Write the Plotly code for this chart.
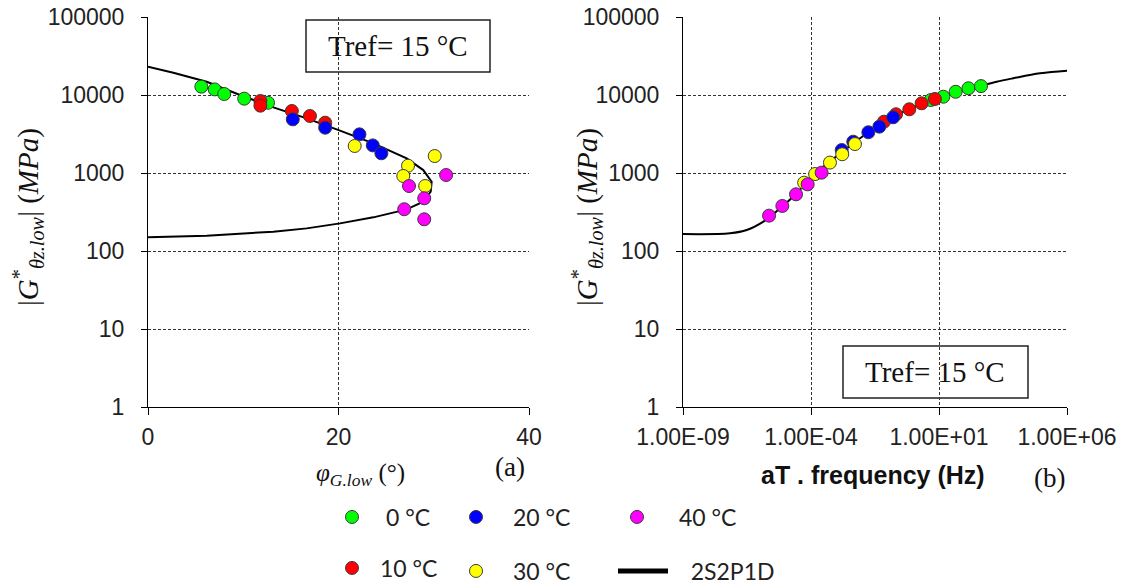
import plotly.graph_objects as go

# page body has an 8px margin, so the figure is 8px smaller and all layout
# positions below are given in reference-image pixels then shifted by OFF
OFF = 8
W, H = 1128 - OFF, 585 - OFF

# ---------------- data ----------------
temps = ["0 °C", "10 °C", "20 °C", "30 °C", "40 °C"]
colors = ["#00FF00", "#FF0000", "#0000FF", "#FFFF00", "#FF00FF"]

# (a) Black space: phase angle (deg) vs |G*| (MPa)
phi_0 = [5.6, 7.0, 8.0, 10.1, 12.6]
g_phi_0 = [12800, 11800, 10300, 8970, 7950]
phi_10 = [11.8, 11.8, 15.1, 17.0, 18.6]
g_phi_10 = [8380, 7300, 6240, 5380, 4420]
phi_20 = [15.2, 18.6, 22.2, 23.6, 24.5]
g_phi_20 = [4870, 3810, 3130, 2260, 1790]
phi_30 = [21.7, 27.3, 26.8, 29.1, 30.1]
g_phi_30 = [2220, 1240, 916, 681, 1650]
phi_40 = [31.3, 27.4, 29.0, 26.9, 29.0]
g_phi_40 = [942, 681, 474, 343, 255]

model_phi = [0.0, 2.66, 6.16, 9.66, 13.16, 16.66, 20.16, 23.66, 27.16, 28.9, 29.78,
             29.68, 28.9, 27.16, 23.66, 20.16, 16.66, 13.16, 6.16, 0.0]
model_g_phi = [23000, 19300, 14800, 10000, 6950, 5020, 3490, 2400, 1540, 1090, 774,
               576, 428, 342, 270, 226, 195, 177, 157, 150]

# (b) master curve: reduced frequency (Hz) vs |G*| (MPa)
f_0 = [4.8, 14.8, 44.7, 141, 437]
g_f_0 = [8630, 9510, 11000, 12200, 13000]
f_10 = [0.071, 0.209, 0.692, 2.09, 6.92]
g_f_10 = [4550, 5660, 6560, 7830, 8890]
f_20 = [0.00158, 0.00447, 0.0174, 0.0468, 0.162]
g_f_20 = [1970, 2520, 3330, 3930, 5180]
f_30 = [5.4e-5, 1.45e-4, 5.5e-4, 1.66e-3, 5.2e-3]
g_f_30 = [752, 970, 1360, 1740, 2350]
f_40 = [2.3e-6, 7.6e-6, 2.6e-5, 7.4e-5, 2.6e-4]
g_f_40 = [284, 378, 533, 716, 1010]

model_f = [1e-9, 6.9e-8, 3.1e-7, 1.38e-6, 6.2e-6, 2.75e-5, 1.23e-4, 5.5e-4, 2.45e-3,
           0.011, 0.049, 0.224, 1.0, 4.47, 20.0, 89, 398, 1780, 7940, 89000, 1e6]
model_g_f = [165, 169, 186, 238, 352, 550, 942, 1400, 2070, 2980, 4120, 5550,
             6950, 8450, 9910, 11400, 13000, 14800, 16400, 19000, 20500]

y_ticks = [1, 10, 100, 1000, 10000, 100000]
y_ticktext = ["1", "10", "100", "1000", "10000", "100000"]
x1_ticks = [0, 20, 40]
x2_ticks = [1e-9, 1e-4, 1e1, 1e6]
x2_ticktext = ["1.00E-09", "1.00E-04", "1.00E+01", "1.00E+06"]

phi_sets = [(phi_0, g_phi_0), (phi_10, g_phi_10), (phi_20, g_phi_20), (phi_30, g_phi_30), (phi_40, g_phi_40)]
f_sets = [(f_0, g_f_0), (f_10, g_f_10), (f_20, g_f_20), (f_30, g_f_30), (f_40, g_f_40)]

# ---------------- figure ----------------
def px(x):
    return (x - OFF) / W

def py(y):
    return 1 - (y - OFF) / H

fig = go.Figure()

legend_ids = ["legend", "legend2", "legend3", "legend4", "legend5"]
marker_line = dict(width=1, color="#3a3a3a")

# model curves
fig.add_trace(go.Scatter(x=model_phi, y=model_g_phi, mode="lines", line=dict(color="black", width=2),
                         xaxis="x", yaxis="y", showlegend=False, hoverinfo="skip"))
fig.add_trace(go.Scatter(x=model_f, y=model_g_f, mode="lines", line=dict(color="black", width=2, shape="spline"),
                         xaxis="x2", yaxis="y2", showlegend=False, hoverinfo="skip"))

for i, (name, col) in enumerate(zip(temps, colors)):
    xs, ys = phi_sets[i]
    fig.add_trace(go.Scatter(x=xs, y=ys, mode="markers", name=name,
                             marker=dict(color=col, size=13, line=marker_line),
                             xaxis="x", yaxis="y", showlegend=True, legend=legend_ids[i]))
    xs, ys = f_sets[i]
    fig.add_trace(go.Scatter(x=xs, y=ys, mode="markers", name=name,
                             marker=dict(color=col, size=13, line=marker_line),
                             xaxis="x2", yaxis="y2", showlegend=False))

# legend entry for the model line
fig.add_trace(go.Scatter(x=[None], y=[None], mode="lines", name="\u00a0\u00a0\u00a02S2P1D",
                         line=dict(color="black", width=5), xaxis="x2", yaxis="y2",
                         showlegend=True, legend="legend6"))

grid = dict(showgrid=True, gridcolor="#333333", gridwidth=1, griddash="3px,2px")
tickfont = dict(family="Liberation Sans, Arial", size=23, color="#222")

ydom = [py(407), py(17)]
common_y = dict(type="log", range=[0, 5], tickvals=y_ticks, ticktext=y_ticktext,
                showline=True, linecolor="black", linewidth=1, ticks="outside", ticklen=6,
                tickcolor="black", tickfont=tickfont, ticklabelstandoff=12, zeroline=False,
                automargin=False, ticklabeloverflow="allow", **grid)
common_x = dict(showline=True, linecolor="black", linewidth=1, ticks="outside", ticklen=7,
                tickcolor="black", tickfont=tickfont, ticklabelstandoff=2, zeroline=False,
                automargin=False, ticklabeloverflow="allow", **grid)

fig.update_layout(
    width=W, height=H,
    margin=dict(l=0, r=0, t=0, b=0, autoexpand=False),
    paper_bgcolor="white", plot_bgcolor="white",
    xaxis=dict(domain=[px(148), px(529)], range=[0, 40], tickvals=x1_ticks, anchor="y", **common_x),
    yaxis=dict(domain=ydom, anchor="x", **common_y),
    xaxis2=dict(domain=[px(683), px(1067)], type="log", range=[-9, 6], tickvals=x2_ticks,
                ticktext=x2_ticktext, anchor="y2", **common_x),
    yaxis2=dict(domain=ydom, anchor="x2", **common_y),
)

# legends: (marker centre x, centre y, itemwidth) in reference pixels
positions = {
    "legend": (352, 517, 58),   # 0 °C
    "legend2": (352, 568, 46),  # 10 °C
    "legend3": (476, 517, 64),  # 20 °C
    "legend4": (476, 571, 64),  # 30 °C
    "legend5": (637, 517, 74),  # 40 °C
}
legfont = dict(family="Lato, Carlito, sans-serif", size=23, color="#222")
for lid, (mx, my, iw) in positions.items():
    fig.update_layout({lid: dict(x=px(mx - (iw / 2 + 5)), y=py(my),
                                 xanchor="left", yanchor="middle", bgcolor="rgba(0,0,0,0)",
                                 borderwidth=0, font=legfont, itemwidth=iw)})
fig.update_layout(legend6=dict(x=px(613), y=py(571),
                               xanchor="left", yanchor="middle", bgcolor="rgba(0,0,0,0)",
                               borderwidth=0, font=legfont, itemwidth=50))

serif = "Liberation Serif, Times New Roman, serif"
ann = []

def add_text(x, y, text, size, family=serif, angle=0):
    ann.append(dict(x=px(x), y=py(y), text=text, textangle=angle, showarrow=False,
                    xref="paper", yref="paper", xanchor="center", yanchor="middle",
                    font=dict(family=family, size=size, color="#111")))

ytitle = "|<i>G</i><sup>*</sup><sub><i>θz.low</i></sub>| (<i>MPa</i>)"
add_text(28, 217, ytitle, 29, angle=-90)
add_text(587, 217, ytitle, 29, angle=-90)
add_text(360, 474, "<i>φ</i><sub><i>G.low</i></sub> (°)", 25)
add_text(873, 475, "<b>aT . frequency (Hz)</b>", 25, family="Liberation Sans, Arial")
add_text(510, 467, "(a)", 27)
add_text(1049, 478, "(b)", 27)
add_text(398, 46, "Tref= 15 °C", 29)
add_text(935, 372, "Tref= 15 °C", 29)
fig.update_layout(annotations=ann)

shapes = []
for (x0, y0, x1, y1) in [(306, 20, 490, 72), (843, 346, 1028, 398)]:
    shapes.append(dict(type="rect", xref="paper", yref="paper", x0=px(x0), x1=px(x1),
                       y0=py(y1), y1=py(y0), line=dict(color="#222", width=1.5),
                       fillcolor="white", layer="below"))
fig.update_layout(shapes=shapes)

fig.write_html("out.html")
